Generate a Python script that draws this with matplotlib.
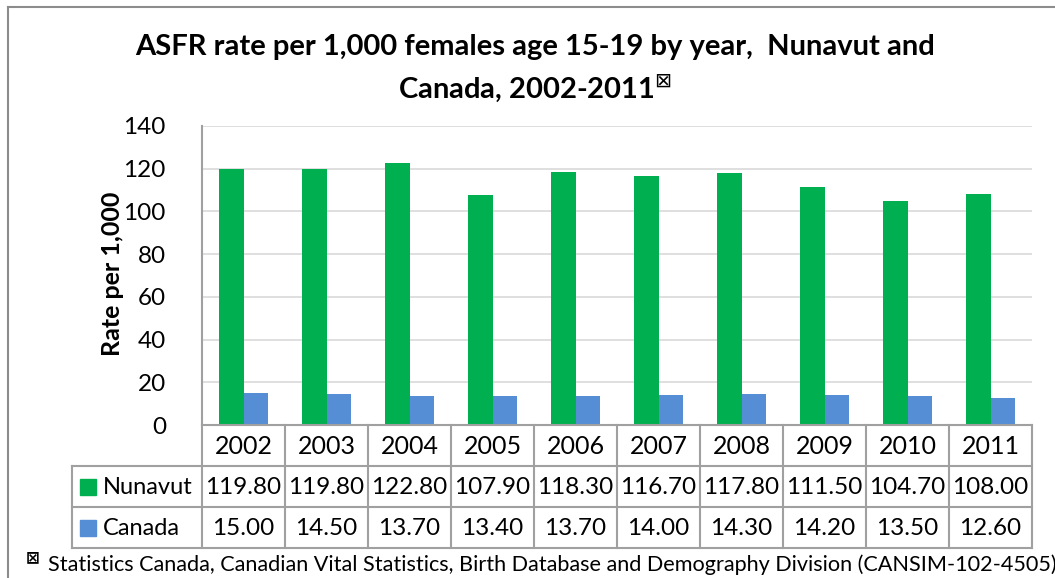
import matplotlib
matplotlib.use('Agg')
import matplotlib.pyplot as plt
import numpy as np

plt.rcParams['font.family'] = ['Lato', 'DejaVu Sans']

years = ['2002', '2003', '2004', '2005', '2006', '2007', '2008', '2009', '2010', '2011']
nunavut = [119.80, 119.80, 122.80, 107.90, 118.30, 116.70, 117.80, 111.50, 104.70, 108.00]
canada = [15.00, 14.50, 13.70, 13.40, 13.70, 14.00, 14.30, 14.20, 13.50, 12.60]
series_names = ['Nunavut', 'Canada']
green = '#00B050'
blue = '#558ED5'
line_grey = '#A0A0A0'

W, H = 1055, 578
fig = plt.figure(figsize=(W / 100, H / 100), dpi=100)


def px_box(x0, y0, x1, y1):
    # pixel box (top-left origin) -> figure fraction rect
    return [x0 / W, 1 - y1 / H, (x1 - x0) / W, (y1 - y0) / H]


# chart border (left and top visible)
fig.add_artist(plt.Line2D([8 / W, 8 / W], [0, 1 - 7 / H], transform=fig.transFigure,
                          color='#8C8C8C', lw=1.5))
fig.add_artist(plt.Line2D([8 / W, 1], [1 - 7 / H, 1 - 7 / H], transform=fig.transFigure,
                          color='#8C8C8C', lw=1.5))

ax = fig.add_axes(px_box(202, 126, 1032, 425))
x = np.arange(len(years))
bw = 0.29
ax.bar(x - bw / 2, nunavut, bw, color=green, zorder=3)
ax.bar(x + bw / 2, canada, bw, color=blue, zorder=3)
ax.set_xlim(-0.5, len(years) - 0.5)
ax.set_ylim(0, 140)
ax.set_yticks(range(0, 141, 20))
ax.yaxis.grid(True, color='#D9D9D9', lw=1.2, zorder=0)
ax.set_xticks([])
for s in ['top', 'right', 'bottom']:
    ax.spines[s].set_visible(False)
ax.spines['left'].set_color(line_grey)
ax.spines['left'].set_linewidth(1.5)
ax.tick_params(axis='y', length=0, pad=26, labelsize=17.5)
ax.set_ylabel('Rate per 1,000', fontsize=18, fontweight='bold')
ax.yaxis.set_label_coords((124 - 202) / 830, 0.505)

# data table below the axis
tax = fig.add_axes(px_box(202, 425, 1032, 548))
tax.set_xlim(-0.5, len(years) - 0.5)
tax.set_ylim(3, 0)
tax.axis('off')
left_edge = -0.5 - (202 - 72) / 83.0
lk = dict(color=line_grey, lw=1.5, clip_on=False)
for i in range(len(years) + 1):
    tax.plot([i - 0.5, i - 0.5], [0, 3], **lk)
tax.plot([left_edge, left_edge], [1, 3], **lk)
tax.plot([-0.5, len(years) - 0.5], [0, 0], **lk)
for r in [1, 2, 3]:
    tax.plot([left_edge, len(years) - 0.5], [r, r], **lk)

for i, yr in enumerate(years):
    tax.text(i, 0.52, yr, ha='center', va='center', fontsize=18)
    tax.text(i, 1.52, '%.2f' % nunavut[i], ha='center', va='center', fontsize=17.5)
    tax.text(i, 2.52, '%.2f' % canada[i], ha='center', va='center', fontsize=17.5)

sq_w = 16 / 83.0
for r, (name, col) in enumerate(zip(series_names, [green, blue])):
    tax.add_patch(plt.Rectangle((left_edge + 8 / 83.0, r + 1.32), sq_w, 0.38,
                                color=col, clip_on=False))
    tax.text(left_edge + 31 / 83.0, r + 1.52, name, ha='left', va='center', fontsize=17)

fig.text(535 / W, 1 - 47 / H, 'ASFR rate per 1,000 females age 15-19 by year,  Nunavut and',
         ha='center', va='center', fontsize=21, fontweight='bold')
fig.text(535 / W, 1 - 88 / H, 'Canada, 2002-2011$^{⊠}$',
         ha='center', va='center', fontsize=21, fontweight='bold')

fig.text(26 / W, 1 - 557 / H, '⊠', ha='left', va='center', fontsize=12, fontweight='bold')
fig.text(48 / W, 1 - 565 / H,
         'Statistics Canada, Canadian Vital Statistics, Birth Database and Demography Division (CANSIM-102-4505)',
         ha='left', va='center', fontsize=15.6)

fig.savefig('out.png', dpi=100)
